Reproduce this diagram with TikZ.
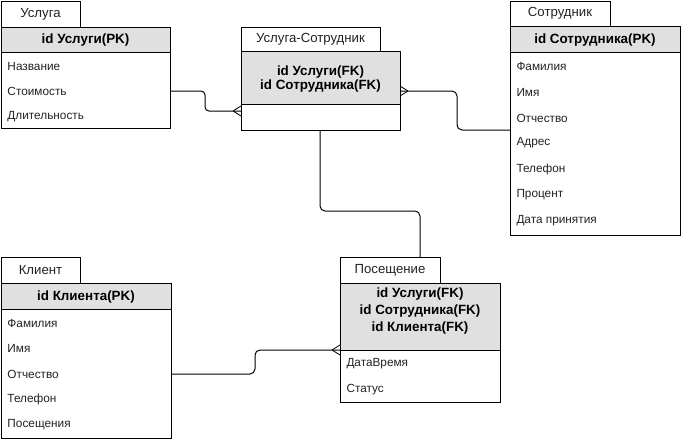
\documentclass[tikz,border=0pt]{standalone}
\usepackage{fontspec}
\setmainfont{Liberation Sans}
\begin{document}
\begin{tikzpicture}[x=1pt,y=-1pt,line width=1pt,
  box/.style={draw=black,anchor=north west,inner sep=0pt,outer sep=0pt},
  tabbox/.style={box,fill=white,font=\fontsize{13.2}{15}\selectfont,text=rowgray},
  hdrbox/.style={box,fill=hdrgray,align=center,font=\fontsize{13.4}{16.5}\selectfont\bfseries},
  hdrtext/.style={inner sep=0pt,align=center},
  bodybox/.style={box,fill=white},
  rowtext/.style={anchor=west,inner sep=0pt,font=\fontsize{11.8}{13}\selectfont,text=rowgray},
  link/.style={draw=black,line width=1pt,rounded corners=5pt},
  crow/.style={draw=black,line width=0.8pt}
]
\definecolor{hdrgray}{RGB}{224,224,224}
\definecolor{rowgray}{RGB}{35,35,35}
\useasboundingbox (0,0) rectangle (681,442);

% ---------- Услуга ----------
\node[tabbox,minimum width=79pt,minimum height=26pt] (uT) at (1,1) {Услуга};
\node[hdrbox,minimum width=169pt,minimum height=25pt,text height=11pt] (uH) at (1,27) {id Услуги(PK)};
\node[bodybox,minimum width=169pt,minimum height=76pt] (uB) at (1,52) {};
\node[rowtext] (uR1) at (7,66) {Название};
\node[rowtext] (uR2) at (7,91) {Стоимость};
\node[rowtext] (uR3) at (7,117) {Длительность};

% ---------- Услуга-Сотрудник ----------
\node[tabbox,minimum width=139pt,minimum height=24pt] (usT) at (241,27) {Услуга-Сотрудник};
\node[hdrbox,minimum width=159pt,minimum height=53pt] (usH) at (241,51) {};
\node[hdrtext,font=\fontsize{13.4}{14}\selectfont\bfseries] (usHt) at (320.5,79) {id Услуги(FK)\\id Сотрудника(FK)};
\node[bodybox,minimum width=159pt,minimum height=26pt] (usB) at (241,104) {};

% ---------- Сотрудник ----------
\node[tabbox,minimum width=100pt,minimum height=25pt] (sT) at (510,1) {Сотрудник};
\node[hdrbox,minimum width=170pt,minimum height=26pt,text height=11pt] (sH) at (510,26) {id Сотрудника(PK)};
\node[bodybox,minimum width=170pt,minimum height=183pt] (sB) at (510,52) {};
\node[rowtext] (sR1) at (516,66) {Фамилия};
\node[rowtext] (sR2) at (516,92) {Имя};
\node[rowtext] (sR3) at (516,118) {Отчество};
\node[rowtext] (sR4) at (516,143) {Адрес};
\node[rowtext] (sR5) at (516,169) {Телефон};
\node[rowtext] (sR6) at (516,195) {Процент};
\node[rowtext] (sR7) at (516,221) {Дата принятия};

% ---------- Клиент ----------
\node[tabbox,minimum width=79pt,minimum height=26pt] (kT) at (1,257) {Клиент};
\node[hdrbox,minimum width=170pt,minimum height=26pt,text height=11pt] (kH) at (1,283) {id Клиента(PK)};
\node[bodybox,minimum width=170pt,minimum height=129pt] (kB) at (1,309) {};
\node[rowtext] (kR1) at (7,323) {Фамилия};
\node[rowtext] (kR2) at (7,348) {Имя};
\node[rowtext] (kR3) at (7,374) {Отчество};
\node[rowtext] (kR4) at (7,399) {Телефон};
\node[rowtext] (kR5) at (7,425) {Посещения};

% ---------- Посещение ----------
\node[tabbox,minimum width=100pt,minimum height=26pt] (pT) at (340,257) {Посещение};
\node[hdrbox,minimum width=160pt,minimum height=67pt] (pH) at (340,283) {};
\node[hdrtext,font=\fontsize{13.4}{17}\selectfont\bfseries] (pHt) at (420,311) {id Услуги(FK)\\id Сотрудника(FK)\\id Клиента(FK)};
\node[bodybox,minimum width=160pt,minimum height=52pt] (pB) at (340,350) {};
\node[rowtext] (pR1) at (346,364) {ДатаВремя};
\node[rowtext] (pR2) at (346,390) {Статус};

% ---------- connectors ----------
\coordinate (a1) at (uB.east |- uR2);
\coordinate (a2) at (241,111);
\draw[link,rounded corners=4pt] (a1) -- (205,91) -- (205,111) -- (a2);
\draw[crow] (233,111) -- (241,106) (233,111) -- (241,116);

\coordinate (b1) at (510,130);
\coordinate (b2) at (400,91);
\draw[link] (b1) -- (457,130) -- (457,91) -- (b2);
\draw[crow] (408,91) -- (400,86) (408,91) -- (400,96);

\coordinate (c1) at (320,130);
\coordinate (c2) at (420,257);
\draw[link] (c1) -- (320,211) -- (420,211) -- (c2);

\coordinate (d1) at (kB.east |- kR3);
\coordinate (d2) at (pB.north west);
\draw[link,rounded corners=5pt] (d1) -- (255,374) -- (255,350) -- (d2);
\draw[crow] (332,350) -- (340,345) (332,350) -- (340,355);
\end{tikzpicture}
\end{document}
